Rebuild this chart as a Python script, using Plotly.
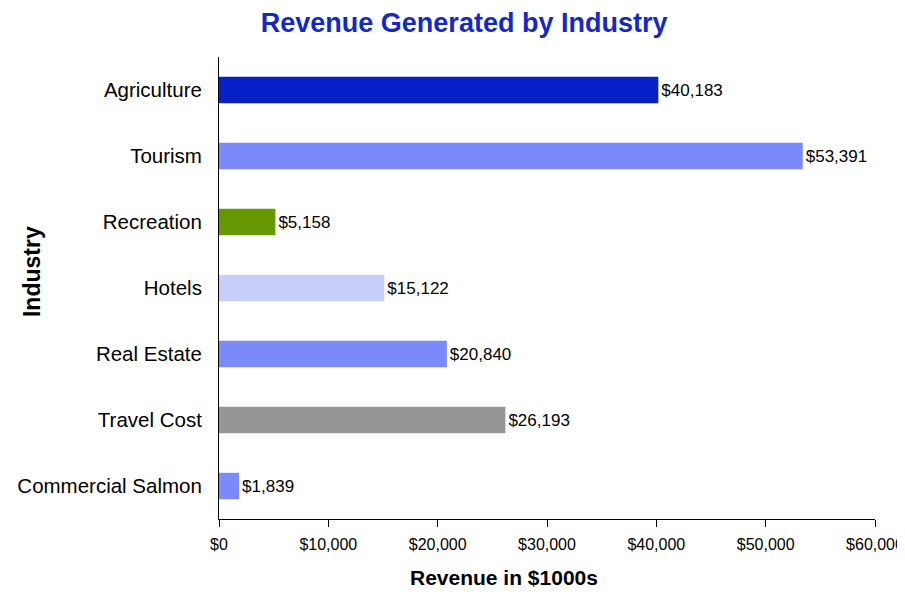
import plotly.graph_objects as go

industries = ["Agriculture", "Tourism", "Recreation", "Hotels", "Real Estate", "Travel Cost", "Commercial Salmon"]
revenue = [40183, 53391, 5158, 15122, 20840, 26193, 1839]
colors = ["#0820C8", "#7B8AF8", "#669900", "#C8CEFA", "#7B8AF8", "#969696", "#7B8AF8"]
tick_vals = [0, 10000, 20000, 30000, 40000, 50000, 60000]
tick_text = ["$0", "$10,000", "$20,000", "$30,000", "$40,000", "$50,000", "$60,000"]

labels = ["${:,}".format(v) for v in revenue]
FONT = "Liberation Sans, Arial, sans-serif"

fig = go.Figure(go.Bar(
    y=industries, x=revenue, orientation="h",
    marker=dict(color=colors, line=dict(width=0)),
    width=0.4,
    text=labels, textposition="outside",
    textfont=dict(family=FONT, size=17, color="black"),
    cliponaxis=False,
))

fig.update_layout(
    width=905, height=592,
    margin=dict(l=211, r=38, t=49, b=81),
    paper_bgcolor="white", plot_bgcolor="white",
    showlegend=False,
    title=dict(text="<b>Revenue Generated by Industry</b>", xref="container", yref="container",
               x=0.504, xanchor="center", y=0.975, yanchor="middle",
               font=dict(family=FONT, size=27, color="#1428C8")),
    font=dict(family=FONT, color="black"),
    annotations=[
        dict(text="<b>Revenue in $1000s</b>", xref="paper", yref="paper", x=0.4345, y=-0.1277,
             xanchor="center", yanchor="middle", showarrow=False, font=dict(family=FONT, size=21, color="black")),
        dict(text="<b>Industry</b>", xref="paper", yref="paper", x=-0.285, y=0.5346, textangle=-90,
             xanchor="center", yanchor="middle", showarrow=False, font=dict(family=FONT, size=23, color="black")),
    ],
)
fig.update_xaxes(
    range=[0, 60000], tickvals=tick_vals, ticktext=tick_text,
    showline=True, linecolor="black", linewidth=1,
    ticks="outside", ticklen=7, tickcolor="black",
    showgrid=False, zeroline=False, automargin=False,
    tickfont=dict(size=16), ticklabelstandoff=4,
)
fig.update_yaxes(
    categoryorder="array", categoryarray=industries, autorange="reversed",
    showline=True, linecolor="black", linewidth=1,
    ticks="", showgrid=False, zeroline=False, automargin=False,
    tickfont=dict(size=20.5), ticklabelstandoff=12,
)

fig.write_html("out.html")
